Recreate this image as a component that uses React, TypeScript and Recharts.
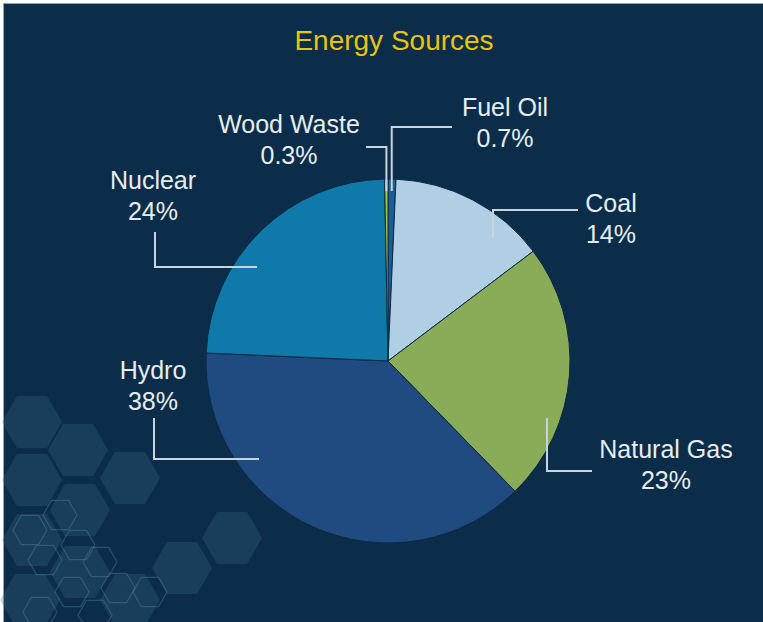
import { Cell, Pie, PieChart } from "recharts"

const sources = ["Fuel Oil", "Coal", "Natural Gas", "Hydro", "Nuclear", "Wood Waste"]
const shares = [0.7, 14, 23, 38, 24, 0.3]
const percentLabels = ["0.7%", "14%", "23%", "38%", "24%", "0.3%"]
const colors = ["#1d5c98", "#b1cfe4", "#8aab58", "#1f4b80", "#0f79a9", "#a3c43c"]

const data = sources.map((name, i) => ({ name, value: shares[i], pct: percentLabels[i] }))

// leader line layout, offsets from the pie centre
// polar: anchor sits on the slice mid angle at radius r; else anchor = ax/ay
// v = vertical first, h = horizontal first
const leaders: Record<string, any> = {
    "Fuel Oil": { polar: 170, ex: 64, ey: -234, dir: "v", lx: 117, ly: -245 },
    "Wood Waste": { polar: 170, ex: -22, ey: -214, dir: "v", lx: -99, ly: -228 },
    Coal: { ax: 105, ay: -123, ex: 190, ey: -151, dir: "v", lx: 223, ly: -149 },
    "Natural Gas": { ax: 159, ay: 57, ex: 204, ey: 110, dir: "v", lx: 278, ly: 97 },
    Hydro: { ax: -129, ay: 98, ex: -234, ey: 57, dir: "h", lx: -235, ly: 18 },
    Nuclear: { ax: -131, ay: -94, ex: -233, ey: -129, dir: "h", lx: -235, ly: -172 },
}

const RAD = Math.PI / 180
const FONT = "Liberation Sans, Arial, sans-serif"

function LeaderLabel(props: any) {
    const { cx, cy, midAngle, name, payload } = props
    const l = leaders[name]
    if (!l) return null
    let ax, ay
    if (l.polar) {
        ax = cx + l.polar * Math.cos(-midAngle * RAD)
        ay = cy + l.polar * Math.sin(-midAngle * RAD)
    } else {
        ax = cx + l.ax
        ay = cy + l.ay
    }
    const ex = cx + l.ex
    const ey = cy + l.ey
    const corner = l.dir === "v" ? [ax, ey] : [ex, ay]
    const tx = cx + l.lx
    const ty = cy + l.ly
    return (
        <g>
            <path
                d={`M${ax},${ay}L${corner[0]},${corner[1]}L${ex},${ey}`}
                stroke="#c9d3dc"
                strokeWidth={2}
                fill="none"
            />
            <text x={tx} y={ty} textAnchor="middle" fill="#e6edf2" fontSize={25} fontFamily={FONT}>
                {name}
            </text>
            <text x={tx} y={ty + 31} textAnchor="middle" fill="#e6edf2" fontSize={25} fontFamily={FONT}>
                {payload.pct}
            </text>
        </g>
    )
}

// background decoration
const bigHexes = [
    [32, 422], [78, 450], [32, 480], [130, 478], [80, 510], [182, 568], [232, 538],
    [32, 540], [80, 572], [130, 600], [30, 600],
]
const smallHexes = [
    [30, 530], [60, 515], [78, 545], [45, 560], [100, 562], [72, 592], [118, 588], [150, 592], [95, 615], [40, 612],
]

function hex(cx: number, cy: number, r: number) {
    const pts = []
    for (let i = 0; i < 6; i++) {
        const a = i * 60 * RAD
        pts.push(`${cx + r * Math.cos(a)},${cy + r * Math.sin(a)}`)
    }
    return pts.join(" ")
}

export default function App() {
    return (
        <div style={{ position: "absolute", left: 0, top: 0, width: 763, height: 622, background: "#ffffff", overflow: "hidden" }}>
            <div
                style={{
                    position: "absolute",
                    left: 3,
                    top: 3,
                    width: 760,
                    height: 619,
                    background: "#0b2d49",
                    borderTop: "1px solid #9aa4ad",
                    borderLeft: "1px solid #9aa4ad",
                    boxSizing: "border-box",
                }}
            />
            <svg width={763} height={622} style={{ position: "absolute", left: 0, top: 0 }}>
                {bigHexes.map(([x, y], i) => (
                    <polygon key={"b" + i} points={hex(x, y, 30)} fill="#3c6a88" fillOpacity={0.28} />
                ))}
                {smallHexes.map(([x, y], i) => (
                    <polygon key={"s" + i} points={hex(x, y, 17)} fill="none" stroke="#5a88a6" strokeOpacity={0.4} strokeWidth={1.2} />
                ))}
                <text x={394} y={50} textAnchor="middle" fill="#e8c40c" fontSize={28} fontFamily={FONT}>
                    Energy Sources
                </text>
            </svg>
            <div style={{ position: "absolute", left: 0, top: 0 }}>
                <PieChart width={763} height={622} margin={{ top: 0, right: 0, bottom: 0, left: 0 }}>
                    <Pie
                        data={data}
                        dataKey="value"
                        nameKey="name"
                        cx={388}
                        cy={361}
                        outerRadius={182}
                        startAngle={90}
                        endAngle={-270}
                        stroke="#0b2a45"
                        strokeWidth={1}
                        label={LeaderLabel}
                        labelLine={false}
                        isAnimationActive={false}
                    >
                        {data.map((d, i) => (
                            <Cell key={d.name} fill={colors[i]} />
                        ))}
                    </Pie>
                </PieChart>
            </div>
        </div>
    )
}
